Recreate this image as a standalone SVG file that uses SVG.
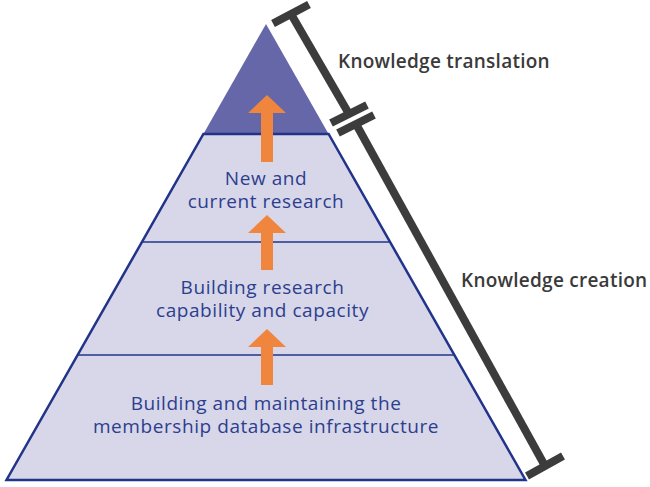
<svg xmlns="http://www.w3.org/2000/svg" width="650" height="487" viewBox="0 0 650 487">
<defs>
<style>
.body{font-family:"Open Sans","Liberation Sans",sans-serif;font-size:19px;fill:#2d3e8e;text-anchor:middle;letter-spacing:0.57px}
.lab{font-family:"Open Sans","Liberation Sans",sans-serif;font-size:19px;font-weight:600;fill:#3a3a3a;letter-spacing:0.25px}
.arrow{fill:#f0853d}
.brk{stroke:#3c3c3c;stroke-width:8;fill:none;stroke-linecap:butt}
.edge{stroke:#22348a;fill:none}
</style>
</defs>
<rect width="650" height="487" fill="#ffffff"/>
<g id="apex">
<polygon points="266,24 203.4,134 328.6,134" fill="#6567a9"/>
</g>
<g id="tier-new-research">
<polygon points="203.4,134 328.6,134 390,242 142,242" fill="#d7d7e9"/>
<text class="body" x="266" y="185">New and</text>
<text class="body" x="266" y="208">current research</text>
</g>
<g id="tier-capability">
<polygon points="142,242 390,242 454.3,355 77.7,355" fill="#d7d7e9"/>
<text class="body" x="262.5" y="294">Building research</text>
<text class="body" x="262.5" y="317">capability and capacity</text>
</g>
<g id="tier-infrastructure">
<polygon points="77.7,355 454.3,355 525.5,480 6.5,480" fill="#d7d7e9"/>
<text class="body" x="266" y="410">Building and maintaining the</text>
<text class="body" x="266" y="433">membership database infrastructure</text>
</g>
<g id="outline">
<polygon class="edge" stroke-width="2.5" stroke-linejoin="miter" points="203.4,134 328.6,134 525.5,480 6.5,480"/>
<line class="edge" stroke-width="1.6" x1="142" y1="242" x2="390" y2="242"/>
<line class="edge" stroke-width="1.6" x1="77.7" y1="355" x2="454.3" y2="355"/>
</g>
<g id="connectors">
<polygon class="arrow" points="267,95 286,113 273,113 273,162 261,162 261,113 248,113"/>
<polygon class="arrow" points="267,215 286,233 273,233 273,270 261,270 261,233 248,233"/>
<polygon class="arrow" points="267,329 286,347 273,347 273,385 261,385 261,347 248,347"/>
</g>
<g id="bracket-translation">
<line class="brk" x1="291" y1="14" x2="349" y2="114"/>
<line class="brk" x1="273" y1="23.5" x2="309" y2="4.5"/>
<line class="brk" x1="331" y1="123" x2="367" y2="105"/>
<text class="lab" x="338" y="68">Knowledge translation</text>
</g>
<g id="bracket-creation">
<line class="brk" x1="356" y1="124" x2="545" y2="466"/>
<line class="brk" x1="338" y1="133" x2="374" y2="115"/>
<line class="brk" x1="527" y1="476" x2="563" y2="456"/>
<text class="lab" x="461" y="287">Knowledge creation</text>
</g>
</svg>
